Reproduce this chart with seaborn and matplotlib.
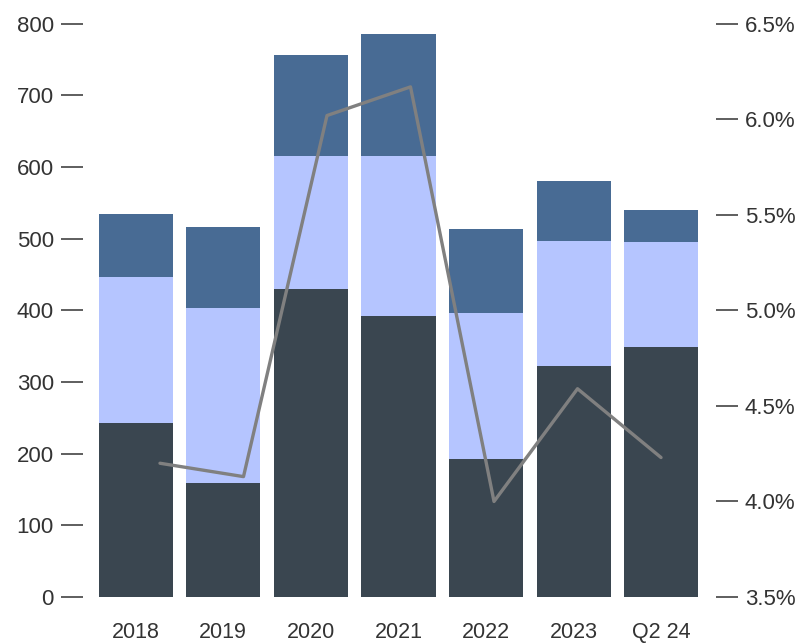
import numpy as np
import pandas as pd
import matplotlib
matplotlib.use("Agg")
import matplotlib.pyplot as plt
import seaborn as sns
from matplotlib.ticker import FuncFormatter

# Categories and stacked segment values (bottom, middle, top)
categories = ["2018", "2019", "2020", "2021", "2022", "2023", "Q2 24"]
seg_bottom = [243, 159, 430, 392, 193, 323, 349]
seg_middle = [203, 245, 186, 224, 204, 174, 147]
seg_top = [89, 113, 140, 170, 116, 84, 44]
# Rate shown on the right axis (%)
rate = [4.20, 4.13, 6.02, 6.17, 4.00, 4.59, 4.23]

left_ticks = [0, 100, 200, 300, 400, 500, 600, 700, 800]
right_ticks = [3.5, 4.0, 4.5, 5.0, 5.5, 6.0, 6.5]

sns.set_style("white")
plt.rcParams["font.family"] = ["Liberation Sans", "DejaVu Sans"]

col_bottom = "#3a4650"
col_middle = "#b5c5ff"
col_top = "#486b94"
text_col = "#333333"

df = pd.DataFrame({
    "cat": categories,
    "bottom": seg_bottom,
    "middle": seg_middle,
    "top": seg_top,
    "rate": rate,
})
df["lvl2"] = df["bottom"] + df["middle"]
df["lvl3"] = df["lvl2"] + df["top"]

pos = [0.104, 0.073, 0.793, 0.890]
fig = plt.figure(figsize=(7.98, 6.44), dpi=100)
ax = fig.add_axes(pos)

# Stacked bars drawn back to front as cumulative totals
for col, color in [("lvl3", col_top), ("lvl2", col_middle), ("bottom", col_bottom)]:
    sns.barplot(data=df, x="cat", y=col, color=color, width=0.845,
                saturation=1, ax=ax, linewidth=0, errorbar=None)

ax.set_xlim(-0.6, 6.62)
ax.set_ylim(0, 800)
ax.set_yticks(left_ticks)
ax.set_xlabel("")
ax.set_ylabel("")
for s in ax.spines.values():
    s.set_visible(False)
ax.tick_params(axis="y", left=True, length=16, width=1.1, color=text_col, pad=5,
               labelsize=16, labelcolor=text_col)
ax.tick_params(axis="x", length=0, pad=18, labelsize=15.5, labelcolor=text_col)

# Rate line on its own overlay axes with the scale on the right
ax2 = fig.add_axes(pos, facecolor="none")
sns.lineplot(x=np.arange(len(categories)), y=df["rate"].values, ax=ax2,
             color="#808080", linewidth=2.4, solid_capstyle="round")
ax2.set_xlim(-0.922, 6.656)
ax2.set_xticks([])
ax2.set_ylim(3.5, 6.5)
ax2.set_yticks(right_ticks)
ax2.yaxis.tick_right()
ax2.yaxis.set_major_formatter(FuncFormatter(lambda v, p: f"{v:.1f}%"))
for s in ax2.spines.values():
    s.set_visible(False)
ax2.tick_params(axis="y", right=True, left=False, length=16, width=1.1,
                color=text_col, pad=5, labelsize=16, labelcolor=text_col)
ax2.set_ylabel("")

fig.savefig("out.png", dpi=100)
